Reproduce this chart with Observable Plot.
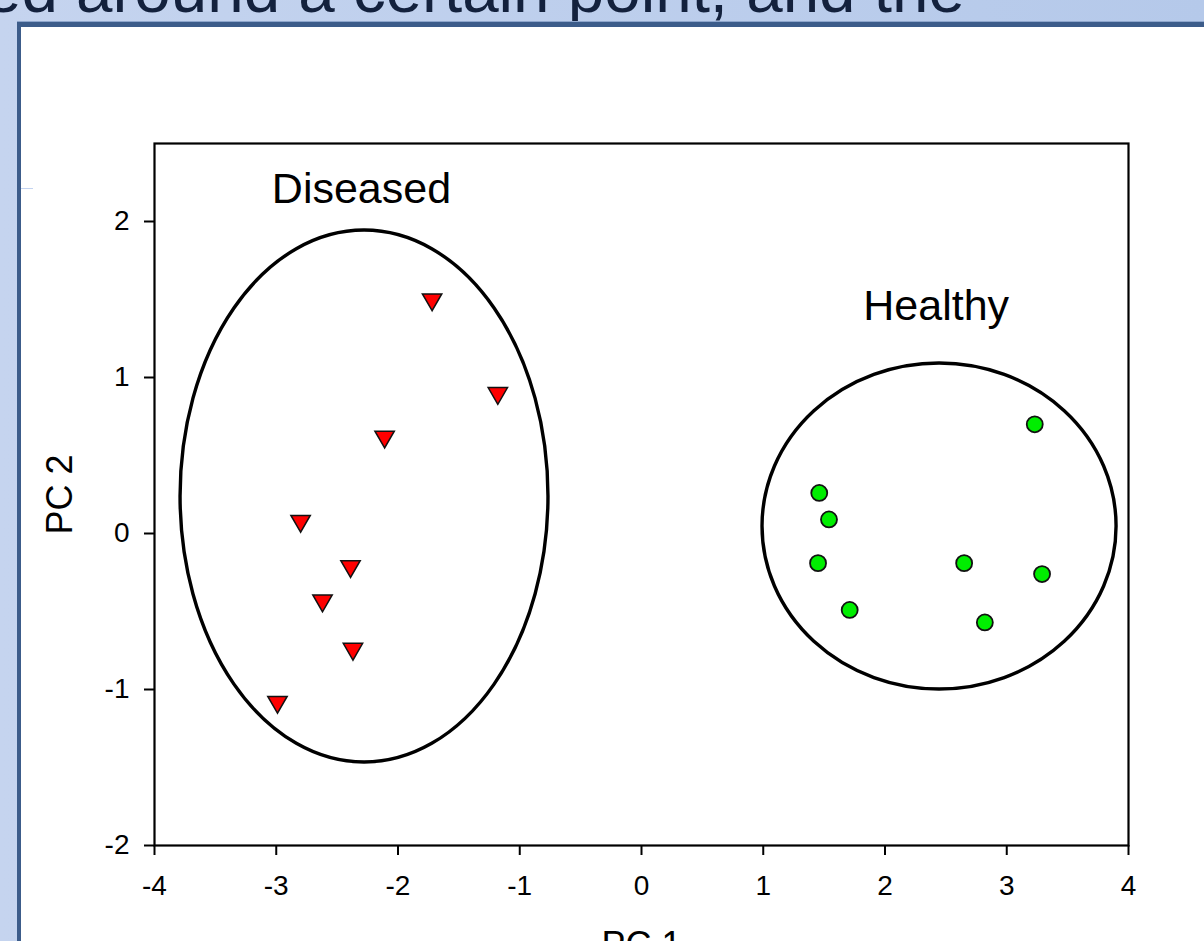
<!DOCTYPE html>
<html>
<head>
<meta charset="utf-8">
<script src="https://cdn.jsdelivr.net/npm/d3@7"></script>
<script src="https://cdn.jsdelivr.net/npm/@observablehq/plot@0.6"></script>
<style>
  html, body { margin: 0; padding: 0; width: 1204px; height: 941px; overflow: hidden; }
  body { position: relative; background: linear-gradient(to right, #c5d4ef, #b5c9ea); font-family: "Liberation Sans", Arial, sans-serif; }
  #slidetext { position: absolute; left: -15px; top: -41px; font-size: 62px; line-height: 62px; color: #13213d; white-space: nowrap; }
  #panel { position: absolute; left: 17px; top: 22px; width: 1300px; height: 1000px; background: #fff; border-left: 4px solid #3c5c8a; border-top: 5px solid #3c5c8a; box-shadow: 0 -1px 0 #8ea6cc; }
  #mark { position: absolute; left: 21px; top: 188px; width: 12px; height: 1px; background: #c3d3f0; }
  #chart { position: absolute; left: 0; top: 0; }
</style>
</head>
<body>
<div id="slidetext">ed around a certain point, and the</div>
<div id="panel"></div>
<div id="mark"></div>
<div id="chart"></div>
<script>
// ---- data ----
const diseasedX = [-1.72, -1.18, -2.11, -2.80, -2.39, -2.62, -2.37, -2.99];
const diseasedY = [1.50, 0.90, 0.62, 0.08, -0.21, -0.43, -0.74, -1.08];
const healthyX = [3.23, 1.46, 1.54, 1.45, 1.71, 2.65, 3.29, 2.82];
const healthyY = [0.70, 0.26, 0.09, -0.19, -0.49, -0.19, -0.26, -0.57];
const groupNames = ["Diseased", "Healthy"];
const groupLabelX = [-2.30, 2.42];
const groupLabelY = [2.12, 1.37];
const ellipseCx = [-2.275, 2.448];
const ellipseCy = [0.237, 0.045];
const ellipseRx = [1.511, 1.454];
const ellipseRy = [1.705, 1.045];
const xTicks = [-4, -3, -2, -1, 0, 1, 2, 3, 4];
const yTicks = [-2, -1, 0, 1, 2];
const xLabel = "PC 1";
const yLabel = "PC 2";

// fit the slide text width
const st = document.getElementById("slidetext");
const targetW = 980;
const w0 = st.getBoundingClientRect().width;
const fs = 62 * targetW / w0;
st.style.fontSize = fs + "px";
st.style.lineHeight = fs + "px";
st.style.top = (12 - 0.8465 * fs) + "px";

const diseased = diseasedX.map((x, i) => ({x, y: diseasedY[i]}));
const healthy = healthyX.map((x, i) => ({x, y: healthyY[i]}));
const labels = groupNames.map((name, i) => ({name, x: groupLabelX[i], y: groupLabelY[i]}));

const ns = "http://www.w3.org/2000/svg";
function ellipses(index, scales) {
  const g = document.createElementNS(ns, "g");
  for (let i = 0; i < ellipseCx.length; i++) {
    const e = document.createElementNS(ns, "ellipse");
    const cx = scales.x(ellipseCx[i]);
    const cy = scales.y(ellipseCy[i]);
    e.setAttribute("cx", cx);
    e.setAttribute("cy", cy);
    e.setAttribute("rx", Math.abs(scales.x(ellipseCx[i] + ellipseRx[i]) - cx));
    e.setAttribute("ry", Math.abs(scales.y(ellipseCy[i] + ellipseRy[i]) - cy));
    e.setAttribute("fill", "none");
    e.setAttribute("stroke", "black");
    e.setAttribute("stroke-width", 3.4);
    g.appendChild(e);
  }
  return g;
}

const chart = Plot.plot({
  width: 1204,
  height: 941,
  marginLeft: 154,
  marginRight: 76,
  marginTop: 143,
  marginBottom: 96,
  x: {domain: [-4, 4]},
  y: {domain: [-2, 2.5]},
  style: {background: "transparent", fontFamily: "'Liberation Sans', Arial, sans-serif", color: "black", overflow: "hidden"},
  marks: [
    Plot.axisX({ticks: xTicks, tickSize: 10, tickPadding: 20, fontSize: 28, strokeWidth: 2, label: null, tickFormat: d => String(d).replace("\u2212", "-")}),
    Plot.axisY({ticks: yTicks, tickSize: 10, tickPadding: 15, fontSize: 28, strokeWidth: 2, label: null, tickFormat: d => String(d)}),
    Plot.frame({stroke: "black", strokeWidth: 2.2}),
    ellipses,
    Plot.dot(diseased, {x: "x", y: "y", symbol: "triangle", rotate: 180, r: 7.2, fill: "#ff0000", stroke: "#111", strokeWidth: 1.5}),
    Plot.dot(healthy, {x: "x", y: "y", symbol: "circle", r: 8, fill: "#00ee00", stroke: "#111", strokeWidth: 1.8}),
    Plot.text(labels, {x: "x", y: "y", text: "name", fontSize: 43, lineAnchor: "bottom", textAnchor: "middle", fill: "black"}),
    Plot.text([xLabel], {text: d => d, frameAnchor: "bottom", dy: 111, lineAnchor: "bottom", textAnchor: "middle", fontSize: 36, fill: "black"}),
    Plot.text([yLabel], {text: d => d, frameAnchor: "left", dx: -83, rotate: -90, lineAnchor: "bottom", textAnchor: "middle", fontSize: 36, fill: "black"})
  ]
});
document.getElementById("chart").appendChild(chart);
</script>
</body>
</html>
